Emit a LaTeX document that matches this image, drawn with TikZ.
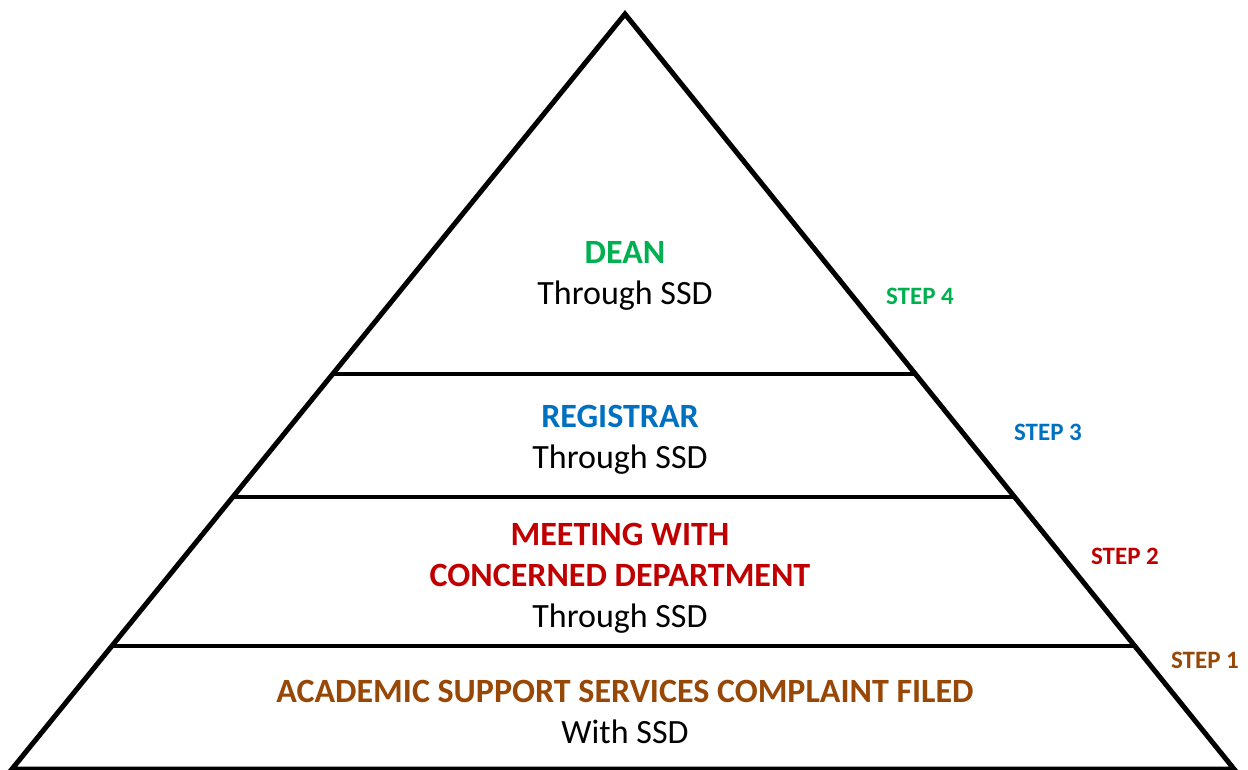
\documentclass[tikz,border=0pt]{standalone}
\usepackage{fontspec}
\setmainfont{Carlito}
\usepackage{tikz}
\usetikzlibrary{positioning}
\usetikzlibrary{calc}
\definecolor{deangreen}{RGB}{0,176,80}
\definecolor{regblue}{RGB}{0,112,192}
\definecolor{meetred}{RGB}{192,0,0}
\definecolor{filebrown}{RGB}{152,72,6}
\tikzset{
    edge/.style={draw=black, line width=5pt, line join=miter},
    tierline/.style={draw=black, line width=4pt},
    tier/.style={align=center, inner sep=0pt, font=\fontsize{34}{41}\selectfont},
    steplabel/.style={inner sep=0pt, font=\bfseries\fontsize{25}{28}\selectfont},
}

\begin{document}
\begin{tikzpicture}[x=1pt, y=-1pt]
\useasboundingbox (0,0) rectangle (1248,769);
% corners of the pyramid
\coordinate (apex) at (625,14);
\coordinate (bl) at (12,769);
\coordinate (br) at (1234,769);
\draw[edge] (bl) -- (apex) -- (br) -- cycle;
% tier boundaries
\coordinate (l3) at ($(apex)!0.477!(bl)$);
\coordinate (r3) at ($(apex)!0.477!(br)$);
\coordinate (l2) at ($(apex)!0.640!(bl)$);
\coordinate (r2) at ($(apex)!0.640!(br)$);
\coordinate (l1) at ($(apex)!0.837!(bl)$);
\coordinate (r1) at ($(apex)!0.837!(br)$);
\draw[tierline] (l3) -- (r3);
\draw[tierline] (l2) -- (r2);
\draw[tierline] (l1) -- (r1);
% tier texts
\node[tier] (dean) at (625,276) {\textcolor{deangreen}{\bfseries DEAN}\\Through SSD};
\node[tier] (registrar) at (620,440) {\textcolor{regblue}{\bfseries REGISTRAR}\\Through SSD};
\node[tier] (meeting) at (620,578) {\textcolor{meetred}{\bfseries MEETING WITH}\\\textcolor{meetred}{\bfseries CONCERNED DEPARTMENT}\\Through SSD};
\node[tier] (filed) at (625,712) {\textcolor{filebrown}{\bfseries ACADEMIC SUPPORT SERVICES COMPLAINT FILED}\\With SSD};
% step labels
\node[steplabel, text=deangreen] (step4) at (920,296) {STEP 4};
\node[steplabel, text=regblue] (step3) at (1048,432) {STEP 3};
\node[steplabel, text=meetred] (step2) at (1125,556) {STEP 2};
\node[steplabel, text=filebrown] (step1) at (1205,660) {STEP 1};
\end{tikzpicture}
\end{document}
